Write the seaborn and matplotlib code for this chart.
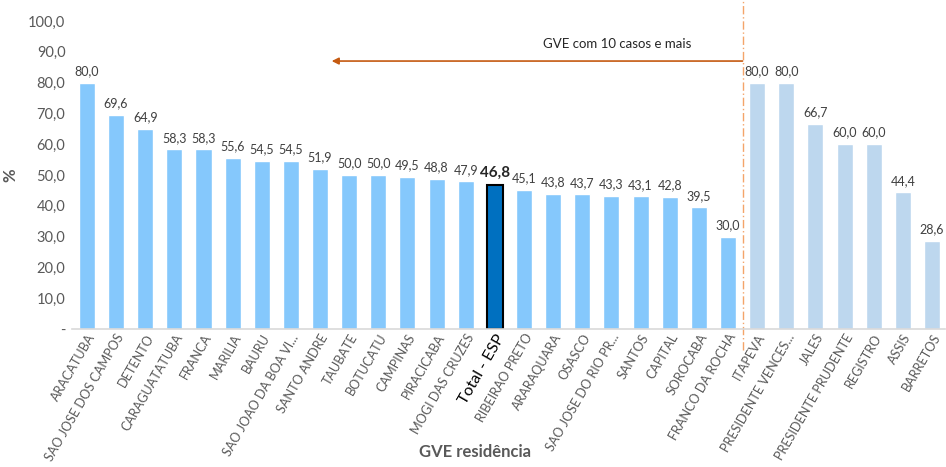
import pandas as pd
import matplotlib.pyplot as plt
import seaborn as sns

# data
gve = ["ARACATUBA", "SAO JOSE DOS CAMPOS", "DETENTO", "CARAGUATATUBA", "FRANCA",
       "MARILIA", "BAURU", "SAO JOAO DA BOA VI...", "SANTO ANDRE", "TAUBATE",
       "BOTUCATU", "CAMPINAS", "PIRACICABA", "MOGI DAS CRUZES", "Total - ESP",
       "RIBEIRAO PRETO", "ARARAQUARA", "OSASCO", "SAO JOSE DO RIO PR...", "SANTOS",
       "CAPITAL", "SOROCABA", "FRANCO DA ROCHA", "ITAPEVA", "PRESIDENTE VENCES...",
       "JALES", "PRESIDENTE PRUDENTE", "REGISTRO", "ASSIS", "BARRETOS"]
pct = [80.0, 69.6, 64.9, 58.3, 58.3, 55.6, 54.5, 54.5, 51.9, 50.0,
       50.0, 49.5, 48.8, 47.9, 46.8, 45.1, 43.8, 43.7, 43.3, 43.1,
       42.8, 39.5, 30.0, 80.0, 80.0, 66.7, 60.0, 60.0, 44.4, 28.6]
total_label = "Total - ESP"
n_big = 23  # GVEs with 10 cases or more (before the split line)

df = pd.DataFrame({"gve": gve, "pct": pct})

colors = []
for i, g in enumerate(gve):
    if g == total_label:
        colors.append("#0070C0")
    elif i < n_big:
        colors.append("#85C8FC")
    else:
        colors.append("#BDD7EE")

sns.set_style("white")
plt.rcParams["font.family"] = ["Lato", "DejaVu Sans"]

fig = plt.figure(figsize=(9.46, 4.67), dpi=100)
ax = fig.add_axes([0.0765, 0.2955, 0.9225, 0.6595])

sns.barplot(data=df, x="gve", y="pct", hue="gve", palette=colors,
            legend=False, width=0.55, ax=ax, saturation=1)

ti = gve.index(total_label)
for i, patch in enumerate(ax.patches):
    if i == ti:
        patch.set_edgecolor("black")
        patch.set_linewidth(1.5)

# value labels
for i, v in enumerate(pct):
    txt = f"{v:.1f}".replace(".", ",")
    if i == ti:
        ax.annotate(txt, (i, v), xytext=(0, 4), textcoords="offset points",
                    ha="center", va="bottom", fontsize=11, fontweight="bold",
                    color="#262626")
    else:
        ax.annotate(txt, (i, v), xytext=(0, 4), textcoords="offset points",
                    ha="center", va="bottom", fontsize=9, color="#404040")

ax.set_ylim(0, 100)
ax.set_xlim(-0.5, len(gve) - 0.55)
ax.set_yticks(range(0, 101, 10))
ax.set_yticklabels(["-"] + [f"{t},0" for t in range(10, 101, 10)],
                   fontsize=10.5, color="#595959")
ax.tick_params(axis="y", length=0, pad=5)
ax.tick_params(axis="x", length=0, pad=2)

ax.set_xticks(range(len(gve)))
ax.set_xticklabels(gve, rotation=60, ha="right", rotation_mode="anchor",
                   fontsize=9.1, color="#595959")
for lbl in ax.get_xticklabels():
    if lbl.get_text() == total_label:
        lbl.set_color("black")
        lbl.set_fontsize(11.5)

for s in ["top", "right", "left"]:
    ax.spines[s].set_visible(False)
ax.spines["bottom"].set_color("#D9D9D9")
ax.spines["bottom"].set_linewidth(1.2)

ax.set_ylabel("%", fontsize=12, fontweight="bold", color="#595959")
ax.yaxis.set_label_coords(-0.062, 0.5)
ax.set_xlabel("")
fig.text(0.502, 0.015, "GVE residência", ha="center", va="bottom",
         fontsize=12, fontweight="bold", color="#595959")

# split line and arrow
ax.axvline(n_big - 0.5, ymin=-0.068, ymax=1.07, clip_on=False,
           color="#F4A46A", linestyle=(0, (6, 2, 1, 2)), linewidth=1)
ax.annotate("", xy=(8.4, 87), xytext=(n_big - 0.5, 87),
            arrowprops=dict(arrowstyle="-|>", color="#C55A11", lw=1.2,
                            mutation_scale=10, shrinkA=0, shrinkB=0),
            annotation_clip=False)
ax.text(18.2, 92.5, "GVE com 10 casos e mais", ha="center", va="center",
        fontsize=9.5, color="#262626")

fig.savefig("out.png", dpi=100)
